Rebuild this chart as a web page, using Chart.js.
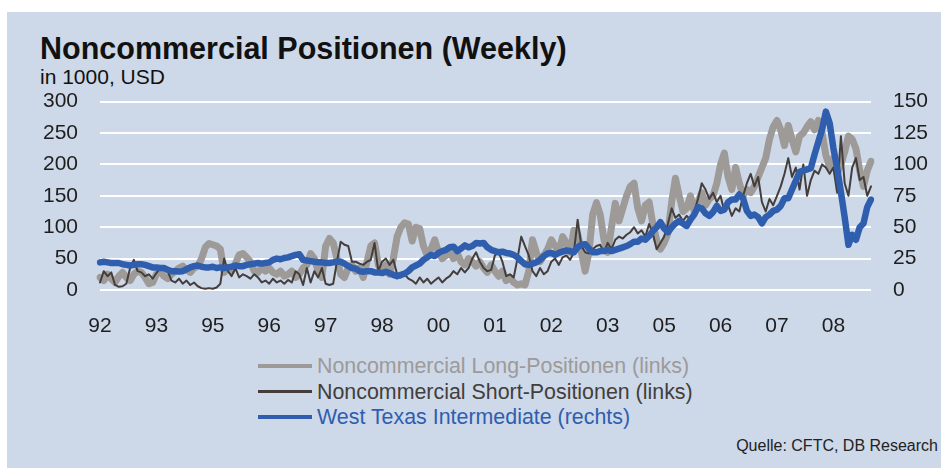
<!DOCTYPE html>
<html>
<head>
<meta charset="utf-8">
<script src="https://cdn.jsdelivr.net/npm/chart.js@4.4.1/dist/chart.umd.min.js"></script>
<style>
html,body{margin:0;padding:0;background:#fff;}
body{width:941px;height:468px;position:relative;overflow:hidden;font-family:'Liberation Sans',Arial,sans-serif;}
#panel{position:absolute;left:7px;top:12px;right:0;bottom:0;background:#cdd8e9;}
#title{position:absolute;left:40px;top:33px;font-size:30.5px;line-height:1;font-weight:bold;color:#111;}
#sub{position:absolute;left:40px;top:66px;font-size:21px;line-height:1;color:#111;}
#wrap{position:absolute;left:0;top:67px;width:941px;height:283px;}
.row{position:absolute;left:258px;height:24px;}
.row i{position:absolute;left:0;width:54px;}
.row span{position:absolute;left:59px;top:0;font-size:21.4px;line-height:24px;white-space:nowrap;}
#src{position:absolute;right:3px;top:437px;font-size:16px;line-height:18px;color:#222;}
</style>
</head>
<body>
<div id="panel"></div>
<div id="title">Noncommercial Positionen (Weekly)</div>
<div id="sub">in 1000, USD</div>
<div id="wrap"><canvas id="c" width="941" height="283"></canvas></div>
<div class="row" style="top:354px"><i style="top:10px;height:4px;background:#9d9a98"></i><span style="color:#9d9a98">Noncommercial Long-Positionen (links)</span></div>
<div class="row" style="top:380px"><i style="top:10px;height:3px;background:#433e3b"></i><span style="color:#433e3b">Noncommercial Short-Positionen (links)</span></div>
<div class="row" style="top:405px"><i style="top:10px;height:4px;background:#2f5eae"></i><span style="color:#2f5eae">West Texas Intermediate (rechts)</span></div>
<div id="src">Quelle: CFTC, DB Research</div>
<script>
// monthly samples, May 1992 .. Jun 2009
const months = [];
for (let y = 1992, m = 5; y < 2009 || m <= 6; m++) {
  if (m > 12) { m = 1; y++; }
  months.push(y + '-' + String(m).padStart(2, '0'));
}
const xTicks = ['92','93','95','96','97','98','00','01','02','03','05','06','07','08'];

// Noncommercial long positions (left axis, 1000 contracts)
const longPos = [
  20, 15, 25, 18, 12, 22, 28, 20,
  15, 25, 30, 28, 20, 10, 12, 25, 30, 22, 18, 25,
  30, 35, 38, 32, 28, 35, 38, 50, 68, 74, 72, 70,
  65, 28, 35, 30, 42, 56, 58, 52, 45, 30, 28, 35,
  30, 35, 28, 25, 30, 22, 25, 30, 20, 25, 35, 40,
  58, 50, 30, 20, 70, 82, 75, 50, 25, 20, 35, 40,
  30, 35, 20, 45, 70, 75, 40, 30, 40, 25, 50, 85,
  100, 107, 105, 78, 100, 98, 70, 55, 65, 80, 60, 50,
  55, 60, 50, 58, 45, 40, 50, 45, 38, 45, 35, 28,
  40, 30, 22, 30, 15, 20, 12, 8, 10, 8, 30, 80,
  60, 45, 55, 65, 80, 70, 60, 85, 75, 60, 95, 90,
  60, 30, 60, 120, 139, 120, 80, 60, 100, 138, 110, 130,
  150, 165, 170, 130, 110, 135, 140, 105, 80, 65, 75, 90,
  140, 178, 150, 125, 130, 150, 125, 140, 155, 135, 145, 150,
  170, 200, 218, 180, 160, 195, 170, 150, 160, 155, 165, 180,
  195, 210, 240, 260, 270, 255, 230, 262, 240, 220, 245, 250,
  260, 268, 255, 270, 250, 215, 195, 210, 185, 200, 220, 245,
  240, 225, 190, 165, 190, 205
];

// Noncommercial short positions (left axis)
const shortPos = [
  12, 30, 22, 28, 8, 5, 6, 10,
  35, 48, 30, 28, 22, 25, 18, 27, 35, 38, 30, 15,
  12, 18, 10, 15, 8, 12, 6, 3, 2, 3, 2, 4,
  10, 50, 30, 22, 35, 20, 25, 22, 18, 25, 20, 12,
  15, 10, 18, 12, 15, 10, 16, 12, 30, 25, 8, 35,
  12, 30, 20, 35, 10, 8, 10, 45, 77, 72, 70, 45,
  45, 42, 40, 45, 48, 75, 30, 45, 50, 40, 48, 25,
  20, 25, 18, 15, 10, 20, 12, 18, 10, 15, 20, 12,
  18, 22, 30, 25, 35, 28, 35, 50, 60, 45, 35, 30,
  32, 55, 60, 45, 22, 25, 20, 50, 85, 70, 55, 30,
  22, 35, 25, 30, 45, 50, 40, 52, 55, 48, 60, 112,
  70, 60, 58, 65, 70, 72, 60, 75, 65, 80, 85, 82,
  88, 92, 100, 90, 95, 85, 105, 90, 65, 75, 85, 105,
  130, 115, 120, 110, 118, 112, 125, 145, 170, 160, 145, 155,
  140, 150, 125, 135, 118, 130, 125, 150, 170, 185, 165, 180,
  140, 125, 145, 135, 150, 165, 185, 210, 180, 195, 160, 200,
  150, 175, 190, 185, 200, 195, 185, 195, 155, 245, 170, 150,
  195, 210, 175, 180, 150, 165
];

// WTI, USD/bbl (right axis)
const wti = [
  22, 22.5, 22, 21.5, 21.5, 21.5, 20.5, 20,
  19.5, 20, 20.5, 20.5, 20, 19, 18, 18, 17.5, 17.5, 16, 15,
  15, 14.8, 15, 16.5, 18, 19, 19.5, 18.5, 18, 18, 18.5, 17.5,
  18, 17.5, 18, 18.5, 19.5, 19, 19, 20, 20.5, 21, 21.5, 21,
  21.5, 22, 24, 25, 24.5, 25.5, 26, 27, 28, 28.5, 24, 23.5,
  23, 22.5, 22, 22, 21.5, 21.5, 22, 22.5, 22.5, 21, 19, 17.5,
  17, 15, 14.5, 15, 15, 14, 14, 13.5, 14.5, 13.5, 12, 11,
  12, 13, 15, 18, 19.5, 21, 24, 26, 28, 27, 29.5, 31,
  32, 34, 34.5, 31, 33, 35.5, 34, 35, 37.5, 37, 37.5, 34,
  32, 31, 30, 30.5, 29.5, 29, 28, 26, 23, 20.5, 20, 21,
  22, 24, 27, 29, 29.5, 28, 29.5, 30.5, 31.5, 31, 30, 34,
  36, 36.5, 33, 30, 30, 31, 31, 32, 31, 32, 33, 34,
  35, 36.5, 38.5, 38.5, 41, 40, 43, 47, 50, 54, 49, 46,
  50, 53, 55, 53, 51, 56, 60, 66, 65, 61, 59, 62,
  67, 63, 64, 70, 72, 72, 76, 73, 63, 59, 60, 58,
  53, 58, 60, 63, 64, 67, 73, 73, 80, 87, 94, 95,
  96, 97, 108, 118, 128, 142, 133, 113, 97, 78, 58, 36,
  44, 40, 50, 53, 66, 72
];

Chart.defaults.font.family = "'Liberation Sans', Arial, sans-serif";
Chart.defaults.font.size = 21;
Chart.defaults.color = '#1e1e1e';

const tickFont = {size: 21};

new Chart(document.getElementById('c'), {
  type: 'line',
  data: {
    labels: months,
    datasets: [
      {label: 'Noncommercial Long-Positionen (links)', data: longPos, borderColor: '#9d9a98', borderWidth: 7, yAxisID: 'y', order: 3},
      {label: 'Noncommercial Short-Positionen (links)', data: shortPos, borderColor: '#433e3b', borderWidth: 2, yAxisID: 'y', order: 2},
      {label: 'West Texas Intermediate (rechts)', data: wti, borderColor: '#2f5eae', borderWidth: 6.5, yAxisID: 'y1', order: 1}
    ]
  },
  options: {
    responsive: false,
    animation: false,
    layout: {padding: {top: 12, left: 0, right: 0, bottom: 0}},
    elements: {
      point: {radius: 0},
      line: {tension: 0, borderJoinStyle: 'round', borderCapStyle: 'round'}
    },
    plugins: {legend: {display: false}, tooltip: {enabled: false}},
    scales: {
      x: {
        grid: {display: false, drawTicks: false},
        border: {display: false},
        ticks: {autoSkip: false, maxRotation: 0, minRotation: 0, padding: 24, font: tickFont,
          callback: (v, i) => (i % 15 === 0 && xTicks[i / 15]) ? xTicks[i / 15] : ''},
        afterFit: s => { s.height = 60; }
      },
      y: {
        position: 'left', min: 0, max: 300,
        ticks: {stepSize: 50, autoSkip: false, padding: 22, font: tickFont},
        grid: {color: '#ffffff', lineWidth: 2, drawTicks: false},
        border: {display: false},
        afterFit: s => { s.width = 100; }
      },
      y1: {
        position: 'right', min: 0, max: 150,
        ticks: {stepSize: 25, autoSkip: false, padding: 22, font: tickFont},
        grid: {display: false, drawTicks: false},
        border: {display: false},
        afterFit: s => { s.width = 70; }
      }
    }
  }
});
</script>
</body>
</html>
